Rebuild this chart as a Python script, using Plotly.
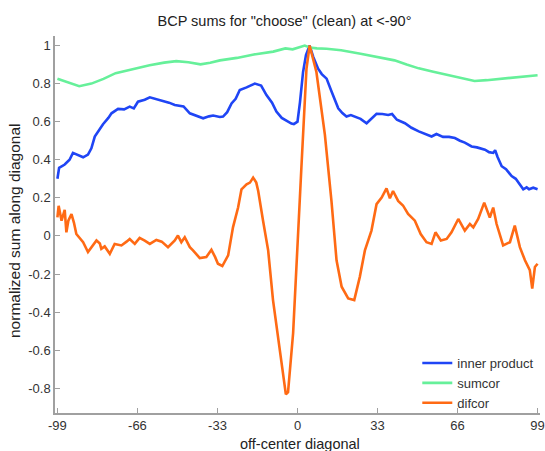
import plotly.graph_objects as go

# Offsets along the off-center diagonal and the normalized sums per method
sumcor_x = [-99, -95, -90, -85, -80, -75, -70, -65, -61, -55, -50, -45, -40, -36, -32,
            -25, -18, -10, -5, -2, 1, 3, 5, 8, 12, 18, 26, 33, 40, 45, 50, 56, 62, 68,
            73, 78, 84, 90, 95, 99]
sumcor_y = [0.826, 0.81, 0.786, 0.80, 0.825, 0.855, 0.87, 0.885, 0.896, 0.91, 0.918,
            0.912, 0.901, 0.91, 0.922, 0.935, 0.953, 0.968, 0.985, 0.98, 0.99, 1.0, 0.99,
            0.985, 0.983, 0.975, 0.957, 0.94, 0.922, 0.9, 0.88, 0.862, 0.844, 0.828,
            0.814, 0.818, 0.826, 0.835, 0.84, 0.844]

inner_x = [-99, -98.3, -96, -94, -92.6, -90.5, -88.4, -86.4, -85, -83.6, -80.2, -78,
           -76.7, -74, -71.5, -69.2, -67.5, -65.8, -63, -60.9, -58.5, -56.8, -53, -50.6,
           -47, -44.4, -41, -38.9, -36.5, -34.8, -32, -30.7, -29, -27.2, -25.5, -23.8,
           -21, -17.6, -15, -12.8, -10.5, -8.7, -6.5, -4.5, -2.5, -1.5, 0, 1, 2.3, 3.5,
           5, 6.5, 8.5, 10, 12, 14, 16.8, 18.5, 20.2, 22, 23.6, 26, 28.5, 30.5, 32.6,
           35, 37.4, 39, 41, 44.3, 47, 50, 53, 55.3, 57.3, 60, 62.5, 64.9, 67, 69, 71.8,
           74, 77.3, 79, 80.7, 81.5, 82.5, 84.2, 86, 88.3, 90, 91.5, 93.1, 94.5, 95.5,
           97.2, 99]
inner_y = [0.30, 0.358, 0.375, 0.40, 0.436, 0.425, 0.413, 0.427, 0.46, 0.522, 0.587,
           0.62, 0.644, 0.667, 0.665, 0.679, 0.67, 0.705, 0.715, 0.728, 0.72, 0.714,
           0.70, 0.688, 0.68, 0.644, 0.63, 0.618, 0.628, 0.632, 0.625, 0.627, 0.65,
           0.696, 0.72, 0.766, 0.78, 0.80, 0.79, 0.74, 0.70, 0.653, 0.62, 0.604, 0.59,
           0.587, 0.6, 0.70, 0.861, 0.95, 1.0, 0.94, 0.878, 0.85, 0.826, 0.76, 0.67,
           0.645, 0.627, 0.635, 0.627, 0.615, 0.592, 0.615, 0.641, 0.64, 0.635, 0.64,
           0.61, 0.592, 0.568, 0.549, 0.535, 0.522, 0.535, 0.52, 0.52, 0.514, 0.50,
           0.49, 0.470, 0.465, 0.453, 0.44, 0.436, 0.45, 0.415, 0.366, 0.35, 0.314,
           0.30, 0.27, 0.245, 0.255, 0.245, 0.253, 0.245]

difcor_x = [-99, -98.5, -97.3, -96, -95.3, -94.5, -93.2, -92.2, -91.2, -88.4, -86.4,
            -84.5, -82.9, -81.5, -80.9, -79.5, -77.4, -75.4, -72.6, -70.5, -69.2, -67.1,
            -65.1, -63, -60.9, -58.2, -56, -53.4, -50.6, -49.3, -47.9, -46.5, -44.4,
            -43.1, -40.3, -37.6, -35.5, -34, -32.8, -31, -28.6, -26.6, -24.5, -23.1,
            -21, -19.6, -18.3, -17, -16.2, -14.2, -12.1, -10.1, -8, -5.9, -4.8, -3.9,
            -1.8, 1.6, 3.7, 5, 7.8, 11.3, 14, 16.1, 18.2, 20.9, 23.4, 25.7, 27.8, 30.5,
            32.6, 34.7, 36.7, 38.1, 39.4, 41.5, 43.5, 45.6, 48.4, 50.8, 53.2, 55.3, 56.9,
            59.1, 61.5, 63.5, 66.3, 69, 71.1, 72.5, 74.5, 77, 79.3, 80.7, 82.1, 84.8,
            87.6, 89.6, 91.7, 93.8, 95.8, 96.8, 97.9, 99]
difcor_y = [0.097, 0.158, 0.08, 0.137, 0.019, 0.08, 0.115, 0.07, 0.010, -0.033, -0.085,
            -0.05, -0.024, -0.04, -0.068, -0.055, -0.094, -0.042, -0.05, -0.03, -0.016,
            -0.042, -0.01, -0.025, -0.042, -0.021, -0.03, -0.059, -0.024, 0.002, -0.033,
            -0.007, -0.059, -0.076, -0.116, -0.111, -0.073, -0.11, -0.146, -0.158,
            -0.102, 0.045, 0.149, 0.245, 0.271, 0.28, 0.306, 0.28, 0.236, 0.08, -0.076,
            -0.337, -0.545, -0.736, -0.832, -0.82, -0.51, 0.358, 0.878, 1.0, 0.861,
            0.531, 0.184, -0.128, -0.267, -0.328, -0.337, -0.215, -0.076, 0.028, 0.167,
            0.201, 0.25, 0.198, 0.236, 0.184, 0.16, 0.115, 0.08, 0.01, -0.033, -0.042,
            0.019, -0.024, -0.016, 0.019, 0.089, 0.028, 0.0625, 0.045, 0.089, 0.175,
            0.097, 0.149, 0.0625, -0.05, -0.033, 0.054, -0.059, -0.128, -0.18, -0.276,
            -0.163, -0.146]

x_tick_vals = [-99, -66, -33, 0, 33, 66, 99]
x_tick_text = ["-99", "-66", "-33", "0", "33", "66", "99"]
y_tick_vals = [-0.8, -0.6, -0.4, -0.2, 0, 0.2, 0.4, 0.6, 0.8, 1]
y_tick_text = ["-0.8", "-0.6", "-0.4", "-0.2", "0", "0.2", "0.4", "0.6", "0.8", "1"]

FONT = "Arial, Liberation Sans, sans-serif"
AXIS_GREY = "#a0a0a0"
W, H = 545, 451
M_L, M_R, M_T, M_B = 55, 5, 36, 38
PLOT_W, PLOT_H = W - M_L - M_R, H - M_T - M_B
BOTTOM = H - M_B

fig = go.Figure()
fig.add_trace(go.Scatter(x=inner_x, y=inner_y, mode="lines", name="inner product",
                         line=dict(color="#1f45f5", width=2.6)))
fig.add_trace(go.Scatter(x=sumcor_x, y=sumcor_y, mode="lines", name="sumcor",
                         line=dict(color="#66f09a", width=2.6)))
fig.add_trace(go.Scatter(x=difcor_x, y=difcor_y, mode="lines", name="difcor",
                         line=dict(color="#ff6a14", width=2.6)))

# Axis titles placed in paper space so the plotting area keeps fixed margins
fig.add_annotation(text="off-center diagonal", xref="paper", yref="paper",
                   x=(300 - M_L) / PLOT_W, y=-(443.5 - BOTTOM) / PLOT_H,
                   xanchor="center", yanchor="middle", showarrow=False,
                   font=dict(size=14.5, color="#222222"))
fig.add_annotation(text="normalized sum along diagonal", xref="paper", yref="paper",
                   x=-(M_L - 15) / PLOT_W, y=(BOTTOM - 231) / PLOT_H, textangle=-90,
                   xanchor="center", yanchor="middle", showarrow=False,
                   font=dict(size=15.5, color="#222222"))

fig.update_layout(
    width=W, height=H,
    margin=dict(l=M_L, r=M_R, t=M_T, b=M_B),
    paper_bgcolor="white", plot_bgcolor="white",
    font=dict(family=FONT, color="#333333", size=13),
    title=dict(text='BCP sums for "choose" (clean) at <-90°',
               x=284.5 / W, xanchor="center", y=1 - 20.5 / H, yanchor="middle",
               font=dict(size=14.5, color="#222222")),
    showlegend=True,
    legend=dict(x=0.747, y=(BOTTOM - 348) / PLOT_H, xanchor="left", yanchor="top",
                bgcolor="rgba(0,0,0,0)", borderwidth=0,
                font=dict(size=13, color="#333333"), tracegroupgap=0),
    xaxis=dict(range=[-100, 100], tickvals=x_tick_vals, ticktext=x_tick_text,
               ticks="inside", ticklen=5, tickcolor=AXIS_GREY, tickwidth=1,
               showline=True, linecolor=AXIS_GREY, linewidth=1.5,
               showgrid=False, zeroline=False, tickfont=dict(size=13),
               automargin=False),
    yaxis=dict(range=[-0.93, 1.05], tickvals=y_tick_vals, ticktext=y_tick_text,
               ticks="inside", ticklen=5, tickcolor=AXIS_GREY, tickwidth=1,
               showline=True, linecolor=AXIS_GREY, linewidth=1.5,
               showgrid=False, zeroline=False, tickfont=dict(size=13),
               automargin=False),
)

fig.write_html("out.html")
